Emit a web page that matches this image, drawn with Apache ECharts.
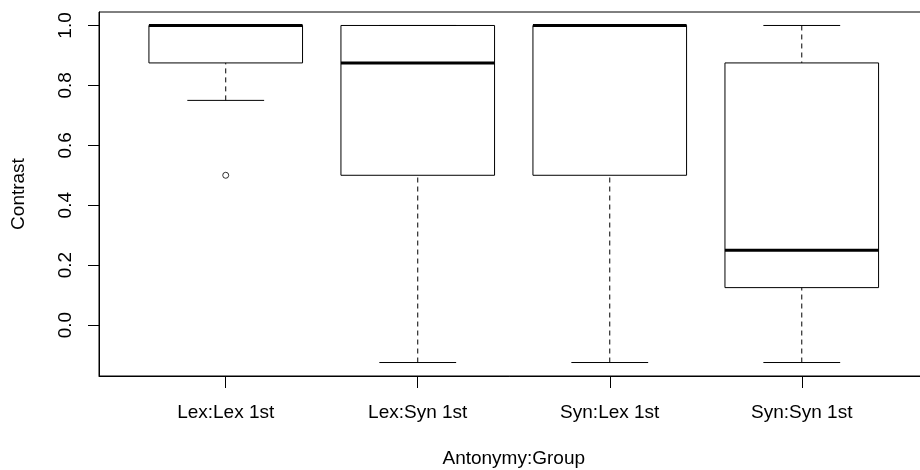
<!DOCTYPE html>
<html>
<head>
<meta charset="utf-8">
<script src="https://cdn.jsdelivr.net/npm/echarts@6/dist/echarts.min.js"></script>
<style>
  html, body { margin: 0; padding: 0; background: #fff; }
  #chart { width: 920px; height: 470px; }
</style>
</head>
<body>
<div id="chart"></div>
<script>
// ---- Data ----
const categories   = ['Lex:Lex 1st', 'Lex:Syn 1st', 'Syn:Lex 1st', 'Syn:Syn 1st'];
const lowerWhisker = [0.75, -0.125, -0.125, -0.125];
const q1           = [0.875, 0.5, 0.5, 0.125];
const median       = [1.0, 0.875, 1.0, 0.25];
const q3           = [1.0, 1.0, 1.0, 0.875];
const upperWhisker = [1.0, 1.0, 1.0, 1.0];
const outlierGroup = ['Lex:Lex 1st'];
const outlierValue = [0.5];
const yTicks       = [0.0, 0.2, 0.4, 0.6, 0.8, 1.0];
const xTitle = 'Antonymy:Group';
const yTitle = 'Contrast';

// ---- Build series data ----
const boxData = categories.map((c, i) => [i + 1, lowerWhisker[i], q1[i], median[i], q3[i], upperWhisker[i]]);
const outlierData = outlierGroup.map((g, i) => [categories.indexOf(g) + 1, outlierValue[i]]);
const xTickPositions = categories.map((c, i) => i + 1);

const FONT = 'Liberation Sans, Arial, Helvetica, sans-serif';
const FS = 19;

function renderBox(params, api) {
  const x = api.value(0);
  const pLo = api.coord([x, api.value(1)]);
  const pQ1 = api.coord([x, api.value(2)]);
  const pMed = api.coord([x, api.value(3)]);
  const pQ3 = api.coord([x, api.value(4)]);
  const pHi = api.coord([x, api.value(5)]);
  const boxW = api.size([0.8, 0])[0];
  const half = boxW / 2;
  const stapleHalf = half / 2;
  const cx = pQ1[0];
  const line = { stroke: '#000', lineWidth: 1, fill: null };
  const dashed = { stroke: '#000', lineWidth: 1, lineDash: [5, 4], fill: null };
  const children = [];
  if (Math.abs(pLo[1] - pQ1[1]) > 0.5) {
    children.push({ type: 'line', shape: { x1: cx, y1: pLo[1], x2: cx, y2: pQ1[1] }, style: dashed });
  }
  if (Math.abs(pHi[1] - pQ3[1]) > 0.5) {
    children.push({ type: 'line', shape: { x1: cx, y1: pHi[1], x2: cx, y2: pQ3[1] }, style: dashed });
  }
  children.push({ type: 'line', shape: { x1: cx - stapleHalf, y1: pLo[1], x2: cx + stapleHalf, y2: pLo[1] }, style: line });
  children.push({ type: 'line', shape: { x1: cx - stapleHalf, y1: pHi[1], x2: cx + stapleHalf, y2: pHi[1] }, style: line });
  children.push({ type: 'rect', shape: { x: cx - half, y: pQ3[1], width: boxW, height: pQ1[1] - pQ3[1] }, style: { stroke: '#000', lineWidth: 1, fill: 'rgba(0,0,0,0)' } });
  children.push({ type: 'line', shape: { x1: cx - half, y1: pMed[1], x2: cx + half, y2: pMed[1] }, style: { stroke: '#000', lineWidth: 3, fill: null } });
  return { type: 'group', children };
}

const chart = echarts.init(document.getElementById('chart'), null, { renderer: 'canvas' });
chart.setOption({
  animation: false,
  backgroundColor: '#fff',
  textStyle: { fontFamily: FONT, color: '#000' },
  grid: {
    left: 99, top: 12, width: 829.5, height: 364,
    show: true, borderColor: '#000', borderWidth: 1, backgroundColor: 'transparent',
    containLabel: false,
    outerBoundsMode: 'none'
  },
  xAxis: {
    type: 'value',
    min: 0.34, max: 4.66,
    splitLine: { show: false },
    axisLine: { show: true, onZero: false, lineStyle: { color: '#000', width: 1 } },
    axisTick: { show: true, length: 12, lineStyle: { color: '#000', width: 1 }, customValues: xTickPositions },
    axisLabel: {
      show: true, margin: 27, fontSize: FS, fontFamily: FONT, color: '#000',
      customValues: xTickPositions,
      formatter: v => categories[Math.round(v) - 1]
    },
    name: xTitle,
    nameLocation: 'middle',
    nameGap: 73,
    nameTextStyle: { fontSize: FS, fontFamily: FONT, color: '#000' }
  },
  yAxis: {
    type: 'value',
    min: -0.17, max: 1.045,
    splitLine: { show: false },
    axisLine: { show: true, onZero: false, lineStyle: { color: '#000', width: 1 } },
    axisTick: { show: true, length: 11, lineStyle: { color: '#000', width: 1 }, customValues: yTicks },
    axisLabel: {
      show: true, rotate: 90, margin: 23.5, fontSize: FS, fontFamily: FONT, color: '#000',
      customValues: yTicks,
      formatter: v => v.toFixed(1)
    },
    name: yTitle,
    nameLocation: 'middle',
    nameGap: 70.5,
    nameTextStyle: { fontSize: FS, fontFamily: FONT, color: '#000' }
  },
  series: [
    {
      type: 'custom',
      renderItem: renderBox,
      data: boxData,
      encode: { x: 0, y: [1, 2, 3, 4, 5] },
      clip: false,
      z: 2
    },
    {
      type: 'scatter',
      data: outlierData,
      symbol: 'circle',
      symbolSize: 6,
      itemStyle: { color: 'rgba(0,0,0,0)', borderColor: '#000', borderWidth: 1 },
      z: 3
    }
  ]
});
</script>
</body>
</html>
